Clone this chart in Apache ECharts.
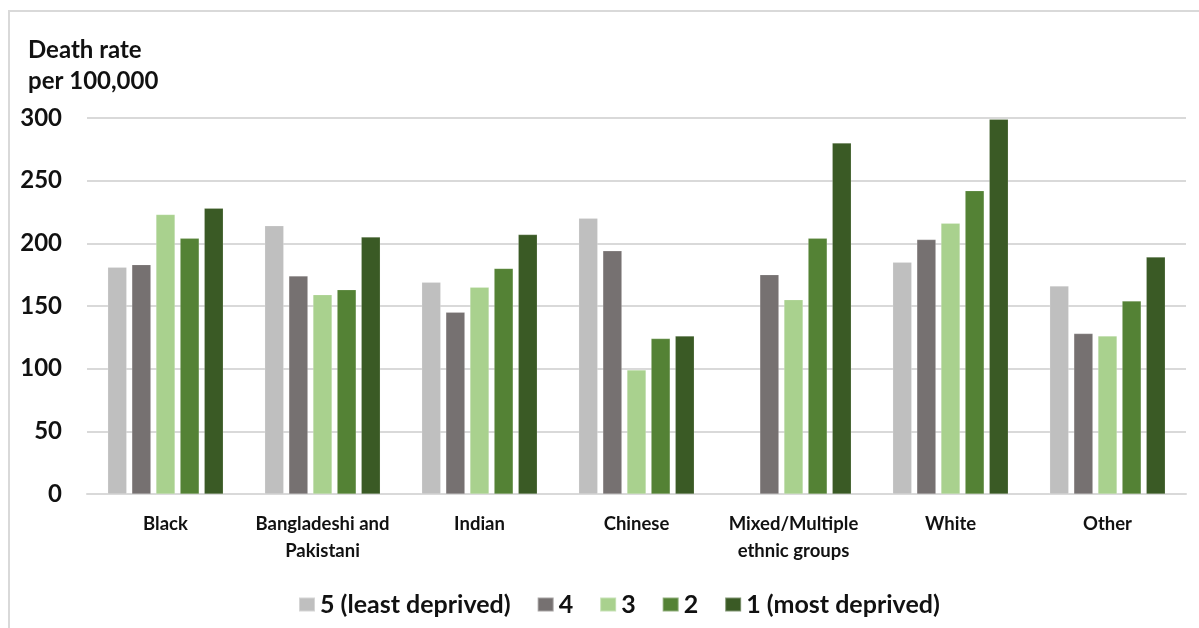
<!DOCTYPE html>
<html>
<head>
<meta charset="utf-8">
<script src="https://cdn.jsdelivr.net/npm/echarts@6/dist/echarts.min.js"></script>
<style>
html,body{margin:0;padding:0;background:#fff;}
#chart{width:1199px;height:628px;}
</style>
</head>
<body>
<div id="chart"></div>
<script>
const categories = ["Black", "Bangladeshi and\nPakistani", "Indian", "Chinese", "Mixed/Multiple\nethnic groups", "White", "Other"];
const seriesNames = ["5 (least deprived)", "4", "3", "2", "1 (most deprived)"];
const q5 = [181, 214, 169, 220, null, 185, 166];
const q4 = [183, 174, 145, 194, 175, 203, 128];
const q3 = [223, 159, 165, 99, 155, 216, 126];
const q2 = [204, 163, 180, 124, 204, 242, 154];
const q1 = [228, 205, 207, 126, 280, 299, 189];
const yTicks = [0, 50, 100, 150, 200, 250, 300];
const colors = ["#BFBFBF", "#767171", "#A9D18E", "#548235", "#3A5A25"];

const values = [q5, q4, q3, q2, q1];
const font = "Lato, 'Open Sans', sans-serif";

const chart = echarts.init(document.getElementById('chart'), null, {renderer: 'canvas'});
chart.setOption({
  animation: false,
  color: colors,
  textStyle: {fontFamily: font},
  graphic: [{
    type: 'rect',
    shape: {x: 9, y: 11, width: 1300, height: 700},
    style: {fill: 'none', stroke: '#D9D9D9', lineWidth: 2},
    silent: true
  }],
  title: {
    text: 'Death rate\nper 100,000',
    left: 23, top: 30,
    textStyle: {fontFamily: font, fontSize: 24, fontWeight: 'bold', color: '#111', lineHeight: 31}
  },
  legend: {
    data: seriesNames,
    left: 293, top: 587,
    itemWidth: 16, itemHeight: 14, itemGap: 26,
    icon: 'rect',
    textStyle: {fontFamily: font, fontSize: 25, fontWeight: 'bold', color: '#111'}
  },
  grid: {left: 87, right: 13, top: 118, bottom: 134, containLabel: false},
  xAxis: {
    type: 'category',
    data: categories,
    axisLine: {show: true, lineStyle: {color: '#D9D9D9', width: 2}},
    axisTick: {show: false},
    axisLabel: {fontFamily: font, fontSize: 18.5, fontWeight: 'bold', color: '#111', margin: 17, lineHeight: 27, interval: 0}
  },
  yAxis: {
    type: 'value',
    min: yTicks[0], max: yTicks[yTicks.length - 1], interval: 50,
    axisLine: {show: false},
    axisTick: {show: false},
    splitLine: {show: true, lineStyle: {color: '#D9D9D9', width: 2}},
    axisLabel: {fontFamily: font, fontSize: 24, fontWeight: 'bold', color: '#111', margin: 25}
  },
  series: seriesNames.map((name, i) => ({
    name: name,
    type: 'bar',
    data: values[i],
    barWidth: 19,
    barGap: '27%',
    itemStyle: {color: colors[i], borderColor: 'rgba(255,255,255,0.35)', borderWidth: 0.5}
  }))
});
</script>
</body>
</html>
